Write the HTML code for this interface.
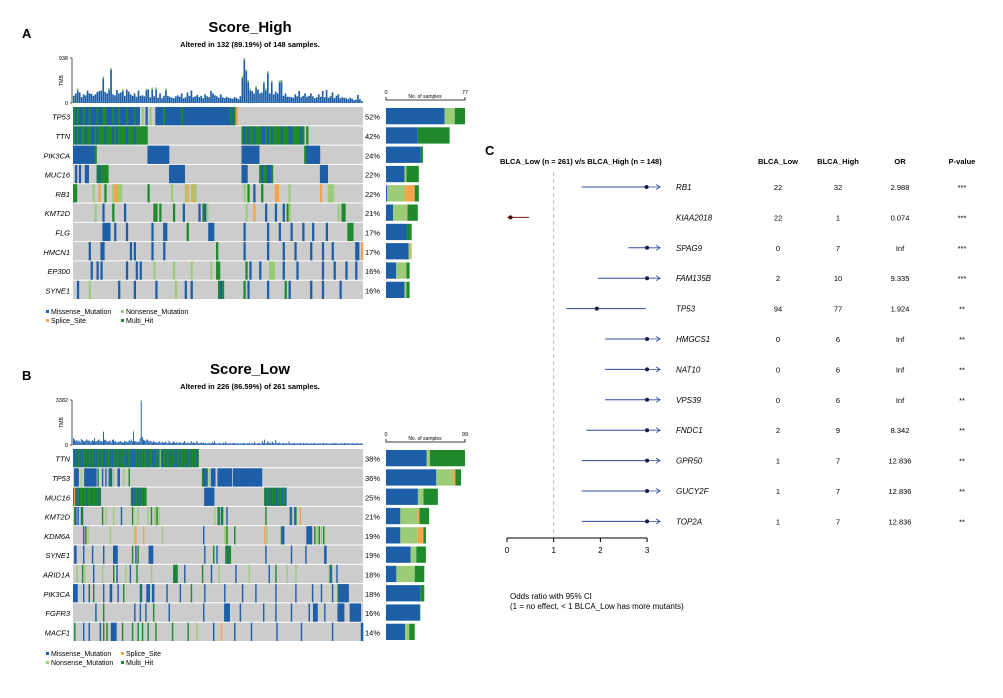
<!DOCTYPE html>
<html><head><meta charset="utf-8"><style>
body{margin:0;background:#fff;width:1003px;height:698px;overflow:hidden}
svg{display:block;font-family:"Liberation Sans",Arial,sans-serif}
</style></head><body>
<svg id="fig" width="1003" height="698" viewBox="0 0 1003 698" xmlns="http://www.w3.org/2000/svg"></svg>
<script>
// ---------- DATA ----------
const genesA = ["TP53","TTN","PIK3CA","MUC16","RB1","KMT2D","FLG","HMCN1","EP300","SYNE1"];
const pctA = ["52%","42%","24%","22%","22%","21%","17%","17%","16%","16%"];
const rowsA = [
 "0hmhmmhmmhmmmhmmhhmmmhmmhmmmhmmmhmm.n.m.n..mmmmhmmmmmmmmhmmmmmmmmmmmmmmmmmmmmmmmmhmhs",
 "0hmhmhhmhhmmhmhhhmhhhmhmhhhhmhhhmhhhhhh 86hmhmhhmhhhmmhmhmhhhhmhhhmmhhhhmh.h",
 "0mmmmmmmmmmmh 38mmmmmmmmmmm 86mmmmmmmmm 118hmmmmmmm",
 "1m.m..mm 12hmhhhh 49mmmmmmmm 86mmm 95hmhhmmh 126mmmm",
 "0hh 10n 13s 16h 20n 21ss 23nn 38h 50n 57ns 60nsn 87n 89h 92m 96h 103ss 110n 126s 130nnn",
 "11n 15m 20h 26m 41hh 44h 51h 56m 64m 66hmn 88n 92s 98m 103m 107m 109hn 135n 137hh",
 "15mmmm 21m 27m 40m 46mm 58h 69mmm 87m 99m 105m 111m 117m 122m 129m 140hhh",
 "8m 14mm 29m.m 40m 46m 73h 87m 99m 107m 113m 121m 127m 132m 144mm 147s",
 "9m 12m 14m 27m 32m.m 41n 51n 60n 70n 73hh 88h 90m 95m 100nnn 107m 114m 127m 133m 139m 144m",
 "2m 8n 23m 31m 42m 52n 57m 60m 74hmh 87h 89m 99m 108h 110m 121m 127m 136m"
];
const tmbA = [150,200,300,220,120,180,160,260,200,190,150,180,230,250,260,550,230,200,310,730,180,160,270,200,220,290,150,280,240,180,150,200,130,260,150,160,140,300,280,120,320,140,320,110,200,100,150,300,150,130,110,100,140,160,130,200,100,120,220,150,260,120,140,170,120,150,100,180,140,120,250,200,160,140,110,180,120,100,130,110,100,90,120,110,80,140,560,938,700,480,300,250,200,350,280,200,220,450,300,660,200,470,180,240,200,470,480,150,200,130,130,120,110,180,140,250,120,150,200,130,150,200,140,100,120,180,130,250,120,270,110,140,220,100,150,180,100,120,110,100,80,110,90,60,70,170,80,40];
// right bars: [missense, nonsense, splice, multi]
const barsA = [[57,10,0,10],[31,0,0,31],[34,0,0,2],[18,2,0,12],[1,17,10,4],[7,13,1,10],[20,0,0,5],[22,2,1,0],[10,10,0,3],[18,2,0,3]];

const genesB = ["TTN","TP53","MUC16","KMT2D","KDM6A","SYNE1","ARID1A","PIK3CA","FGFR3","MACF1"];
const pctB = ["38%","36%","25%","21%","19%","19%","18%","18%","16%","14%"];
const rowsB = [
 "0hmhmhhmhmhhmhmhhmhhmhmhhmhhmmhmhhmhmhhmhhmhmhhmhmhhmhmhmhhmhmhhmhhmhmhhmhmhhmhnhmhhmhhmhmhhmhmhhmhhmhmhmhhmhmhhmh",
 "1mmmm 7n 10mmmmmmmmmmm 22h 26m 29m 32mhm 36n 40mm 45n 50h 116hmmhm 122n 124mmmm 130mmmmmmmmmmmmm 144mmmmmmmmmmmmmmmmmmmmmmmmmm",
 "0hsmhhmhhhmhhmhhhmhhhmhhmh 52hmhmhhmhmhhmhh 118mmmmmmmmm 172hmhhmhmhmhmmhmhhmhhm",
 "1hm 4m 7mh 26h 29n 36n 43m 53hn 58n 67n 70h 73nnh 77n 127n 130hh 133mh 138m 173h 195mh 199mh 204s",
 "9m 11h 13n 33n 55ns 63s 80n 117m 136nn 138h 145h 172s 174n 187hmm 210mmmmm 217h 219n 221h 223n 225h",
 "1mm 9m 17m 27m 36mmmm 53h 56m 58h 68mmmm 118m 126h 129m 137hhmhh 173m 196m 209m 226mm",
 "3n 8h 10n 18m 26n 36h 39m 47n 51m 57h 70n 90hhmh 100m 116h 124m 131n 146m 158n 176m 182h 192n 200n 230nmh 237m",
 "0mmmm 9m 14m 18h 27m 33mm 40m 45h 60hm 66mmm 71mm 84m 96m 106h 118m 136m 152m 164m 182m 200m 215m 223m 233m 238hmmmmmmmmm",
 "20m 27h 55m 60m 65m 72h 86m 117m 136mmmmm 150m 171m 182m 196m 212m 216mmmm 226m 238mmmmmm 249mmmmmmmmmm",
 "1h 9m 14m 24m 27h 30h 34mmmmm 44h 53h 58h 62h 67h 74h 89h 103h 111n 126m 133s 145m 160m 183m 205m 233m 259mm"
];
const tmbB = [500,420,300,380,260,340,200,450,380,280,250,300,420,350,330,280,240,380,300,520,260,310,350,420,280,300,250,1000,400,360,300,240,280,350,200,380,420,260,300,180,240,220,300,260,200,180,310,240,280,200,350,300,420,260,1100,300,280,240,260,220,500,3382,600,400,350,300,420,380,250,320,260,200,280,240,180,220,160,300,200,180,240,150,200,260,180,140,320,200,150,180,260,200,160,240,140,180,220,150,120,200,300,160,140,200,120,180,280,150,200,160,140,300,180,120,160,200,140,180,120,160,140,100,180,120,160,200,140,300,140,120,100,160,120,140,100,180,120,260,140,100,120,160,100,140,120,180,100,120,160,100,120,140,100,160,120,100,140,120,160,100,120,140,100,240,120,100,140,160,100,120,300,140,400,120,160,300,140,200,120,260,140,120,380,160,120,200,140,100,120,160,100,140,120,100,260,120,100,140,120,160,100,120,140,100,160,120,100,140,120,100,160,120,100,120,140,100,120,160,100,140,100,120,140,100,120,160,100,120,140,100,120,100,140,120,100,160,120,140,100,120,100,140,120,100,160,120,100,140,120,100,120,140,100,120,100,160,120,100,140,100,100];
const barsB = [[51,4,0,44],[63,21,3,7],[40,7,0,18],[18,22,2,12],[18,21,8,3],[31,7,0,12],[13,23,0,12],[43,0,0,5],[42,0,0,1],[24,5,0,7]];

const forestGenes = ["RB1","KIAA2018","SPAG9","FAM135B","TP53","HMGCS1","NAT10","VPS39","FNDC1","GPR50","GUCY2F","TOP2A"];
const forestOR = [2.988,0.074,Infinity,9.335,1.924,Infinity,Infinity,Infinity,8.342,12.836,12.836,12.836];
const forestLo = [1.6,0.01,2.6,1.95,1.27,2.1,2.1,2.1,1.7,1.6,1.6,1.6];
const forestHi = [6,0.47,99,60,2.97,99,99,99,70,99,99,99];
const forestLow = [22,22,0,2,94,0,0,0,2,1,1,1];
const forestHigh = [32,1,7,10,77,6,6,6,9,7,7,7];
const forestORText = ["2.988","0.074","Inf","9.335","1.924","Inf","Inf","Inf","8.342","12.836","12.836","12.836"];
const forestP = ["***","***","***","***","**","**","**","**","**","**","**","**"];
const forestTicks = [0,1,2,3];

// ---------- DRAW ----------
const NS="http://www.w3.org/2000/svg", svg=document.getElementById("fig");
const COL={m:"#1d5ea8",n:"#9ccc78",s:"#f3a44c",h:"#1e8a2c",".":"#cccccc"};
function el(tag,attrs,parent){const e=document.createElementNS(NS,tag);for(const k in attrs)e.setAttribute(k,attrs[k]);(parent||svg).appendChild(e);return e;}
function txt(s,x,y,size,attrs,parent){const t=el("text",Object.assign({x:x,y:y,"font-size":size},attrs||{}),parent);t.textContent=s;return t;}
function parseRow(str,n){const arr=new Array(n).fill(".");str.split(" ").forEach(tok=>{const m=tok.match(/^(\d+)(.*)$/);if(!m)return;let p=+m[1];for(const c of m[2]){if(p<n)arr[p]=c;p++;}});return arr;}

function oncoplot(cfg){
 const g=el("g",{});
 
 
 const n=cfg.tmb.length, x0=73, x1=363, cw=(x1-x0)/n;
 const L=txt(cfg.letter,22,cfg.top+18,13,{"font-weight":"bold"},g);
 
 
 const T=txt(cfg.title,250,cfg.top+12,15,{"font-weight":"bold","text-anchor":"middle"},g);
 
 
 const S=txt(cfg.sub,250,cfg.top+27,7.5,{"font-weight":"bold","text-anchor":"middle"},g);
 
 
 const tb=cfg.tmbBase, th=45, mx=Math.max(...cfg.tmb);
 el("path",{d:`M${x0-1} ${tb-th}h-2M${x0-1} ${tb-th}V${tb}h-2`,stroke:"#555","stroke-width":1,fill:"none"},g);
 txt(String(mx),x0-5,tb-th+2,5.5,{"text-anchor":"end"},g);
 txt("0",x0-5,tb+2,5.5,{"text-anchor":"end"},g);
 txt("TMB",x0-10,tb-th/2,5,{"text-anchor":"middle",transform:`rotate(-90 ${x0-10} ${tb-th/2})`},g);
 cfg.tmb.forEach((v,i)=>{
  const h=v/mx*th;
  const b=el("rect",{x:x0+i*cw,y:tb-h,width:cw*0.85,height:h,fill:"#1d5ea8"},g);
  
  
  if(v/mx>0.3){el("rect",{x:x0+i*cw,y:tb-h,width:cw*0.85,height:2,fill:"#9ccc78"},g);}
 });
 const rh=(cfg.mBot-cfg.mTop)/cfg.genes.length;
 cfg.genes.forEach((gname,r)=>{
  const y=cfg.mTop+r*rh, cells=parseRow(cfg.rows[r],n);
  el("rect",{x:x0,y:y,width:x1-x0,height:rh-1,fill:"#cccccc"},g);
  cells.forEach((c,i)=>{ if(c!=="."){const cr=el("rect",{x:x0+i*cw,y:y,width:cw+0.3,height:rh-1,fill:COL[c]},g);
    
    }});
  const gl=txt(gname,x0-3,y+rh/2+3,7.5,{"text-anchor":"end","font-style":"italic"},g);
  
  
  txt(cfg.pct[r],365,y+rh/2+3,7.5,{},g);
  let bx=386;const sc=79/cfg.maxN;
  ["m","n","s","h"].forEach((k,j)=>{const w=cfg.bars[r][j]*sc;if(w>0){const sb=el("rect",{x:bx,y:y+1,width:w,height:rh-3,fill:COL[k]},g);
    
    }bx+=w;});
 });
 const ay=cfg.mTop-7;
 el("path",{d:`M386 ${ay-3}V${ay}H465V${ay-3}`,stroke:"#000","stroke-width":0.8,fill:"none"},g);
 txt("0",386,ay-6,5.5,{"text-anchor":"middle"},g);
 txt(String(cfg.maxN),465,ay-6,5.5,{"text-anchor":"middle"},g);
 txt("No. of samples",425,ay-2,5,{"text-anchor":"middle"},g);
 const ly=cfg.legY;
 cfg.legend.forEach((it,i)=>{
  const lx=it[2], yy=ly+it[3]*9;
  el("rect",{x:lx-4,y:yy-4,width:3,height:3,fill:COL[it[0]]},g);
  const lt=txt(it[1],lx+1,yy,7,{},g);
  
  
 });
}
oncoplot({name:"oncoplot-score-high",letter:"A",title:"Score_High",sub:"Altered in 132 (89.19%) of 148 samples.",top:20,tmbBase:103,mTop:107,mBot:300,genes:genesA,pct:pctA,rows:rowsA,tmb:tmbA,bars:barsA,maxN:77,legY:314,
 legend:[["m","Missense_Mutation",50,0],["n","Nonsense_Mutation",125,0],["s","Splice_Site",50,1],["h","Multi_Hit",125,1]]});
oncoplot({name:"oncoplot-score-low",letter:"B",title:"Score_Low",sub:"Altered in 226 (86.59%) of 261 samples.",top:362,tmbBase:445,mTop:449,mBot:642,genes:genesB,pct:pctB,rows:rowsB,tmb:tmbB,bars:barsB,maxN:99,legY:656,
 legend:[["m","Missense_Mutation",50,0],["s","Splice_Site",125,0],["n","Nonsense_Mutation",50,1],["h","Multi_Hit",125,1]]});

// ---------- FOREST ----------
const fg=el("g",{});


const fx=v=>507+Math.min(v,3)*46.7;
const fy=i=>187+i*30.4;
txt("C",485,155,13,{"font-weight":"bold"},fg);
txt("BLCA_Low (n = 261) v/s BLCA_High (n = 148)",500,164,7.5,{"font-weight":"bold"},fg);
[["BLCA_Low",778],["BLCA_High",838],["OR",900],["P-value",962]].forEach(h=>{const t=txt(h[0],h[1],164,7.5,{"font-weight":"bold","text-anchor":"middle"},fg);
 
 });
el("line",{x1:fx(1),y1:172,x2:fx(1),y2:537,stroke:"#bbb","stroke-dasharray":"4 3","stroke-width":1},fg);
forestGenes.forEach((gname,i)=>{
 const y=fy(i), col=forestOR[i]<1?"#7a1020":"#2f4aa0";
 const ln=el("line",{x1:fx(forestLo[i]),y1:y,x2:fx(forestHi[i]),y2:y,stroke:col,"stroke-width":1},fg);
 
 
 if(forestHi[i]>3){const ax=fx(3)+13;el("path",{d:`M${fx(3)} ${y}H${ax}M${ax-4} ${y-2.5}L${ax} ${y}L${ax-4} ${y+2.5}`,stroke:col,fill:"none","stroke-width":0.8},fg);}
 const pt=el("circle",{cx:fx(forestOR[i]),cy:y,r:2,fill:forestOR[i]<1?"#4a0a14":"#14204a"},fg);
 
 
 const gl=txt(gname,676,y+3,8,{"font-style":"italic"},fg);
 
 
 txt(String(forestLow[i]),778,y+3,7.5,{"text-anchor":"middle"},fg);
 txt(String(forestHigh[i]),838,y+3,7.5,{"text-anchor":"middle"},fg);
 txt(forestORText[i],900,y+3,7.5,{"text-anchor":"middle"},fg);
 txt(forestP[i],962,y+3,7.5,{"text-anchor":"middle"},fg);
});
el("line",{x1:fx(0),y1:538,x2:fx(3),y2:538,stroke:"#000","stroke-width":1},fg);
forestTicks.forEach(t=>{el("line",{x1:fx(t),y1:538,x2:fx(t),y2:542,stroke:"#000"},fg);
 const tl=txt(String(t),fx(t),553,8,{"text-anchor":"middle"},fg);
 
 });
txt("Odds ratio with 95% CI",510,599,8,{},fg);
txt("(1 = no effect, < 1 BLCA_Low has more mutants)",510,609,8,{},fg);
</script>
</body></html>
